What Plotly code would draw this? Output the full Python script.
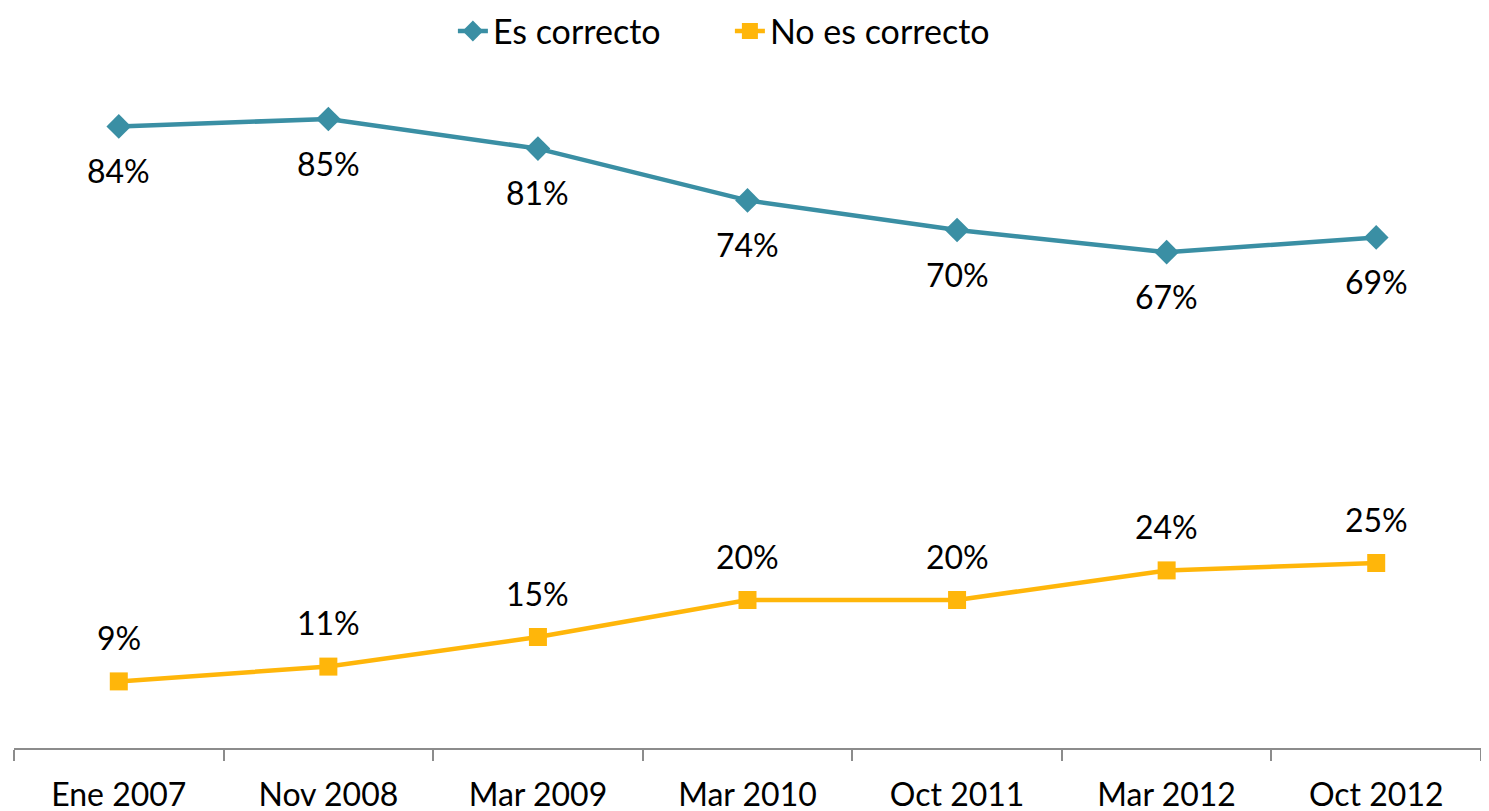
import plotly.graph_objects as go

categories = ["Ene 2007", "Nov 2008", "Mar 2009", "Mar 2010", "Oct 2011", "Mar 2012", "Oct 2012"]
es_correcto = [84, 85, 81, 74, 70, 67, 69]
no_es_correcto = [9, 11, 15, 20, 20, 24, 25]

TEAL = "#3A8FA4"
YELLOW = "#FFB60A"
FONT = "Lato"

fig = go.Figure()
fig.add_trace(go.Scatter(
    x=categories, y=es_correcto, name="Es correcto", mode="lines+markers",
    line=dict(color=TEAL, width=4.5),
    marker=dict(symbol="diamond", size=19, color=TEAL),
))
fig.add_trace(go.Scatter(
    x=categories, y=no_es_correcto, name="No es correcto", mode="lines+markers",
    line=dict(color=YELLOW, width=4.5),
    marker=dict(symbol="square", size=18, color=YELLOW),
))

for c, v in zip(categories, es_correcto):
    fig.add_annotation(x=c, y=v, text=f"{v}%", showarrow=False, yshift=-44,
                       font=dict(size=32, color="black", family=FONT))
for c, v in zip(categories, no_es_correcto):
    fig.add_annotation(x=c, y=v, text=f"{v}%", showarrow=False, yshift=44,
                       font=dict(size=32, color="black", family=FONT))

fig.update_layout(
    width=1489, height=811,
    margin=dict(l=6, r=16, t=74, b=71, autoexpand=False),
    plot_bgcolor="white", paper_bgcolor="white",
    font=dict(family=FONT, size=32, color="black"),
    showlegend=True,
    legend=dict(orientation="h", x=0.488, xanchor="center", y=1.076, yref="paper",
                yanchor="middle", font=dict(size=34, family=FONT),
                entrywidth=232, entrywidthmode="pixels",
                bgcolor="rgba(0,0,0,0)"),
    xaxis=dict(
        range=[-0.5, 6.5],
        showline=True, linecolor="#8C8C8C", linewidth=2,
        ticks="outside", tickson="boundaries", ticklen=11, tickcolor="#8C8C8C", tickwidth=2,
        ticklabelstandoff=18,
        showgrid=False, tickfont=dict(size=32, family=FONT), zeroline=False,
    ),
    yaxis=dict(range=[0, 90], visible=False, showgrid=False, zeroline=False),
)

fig.write_html("out.html")
